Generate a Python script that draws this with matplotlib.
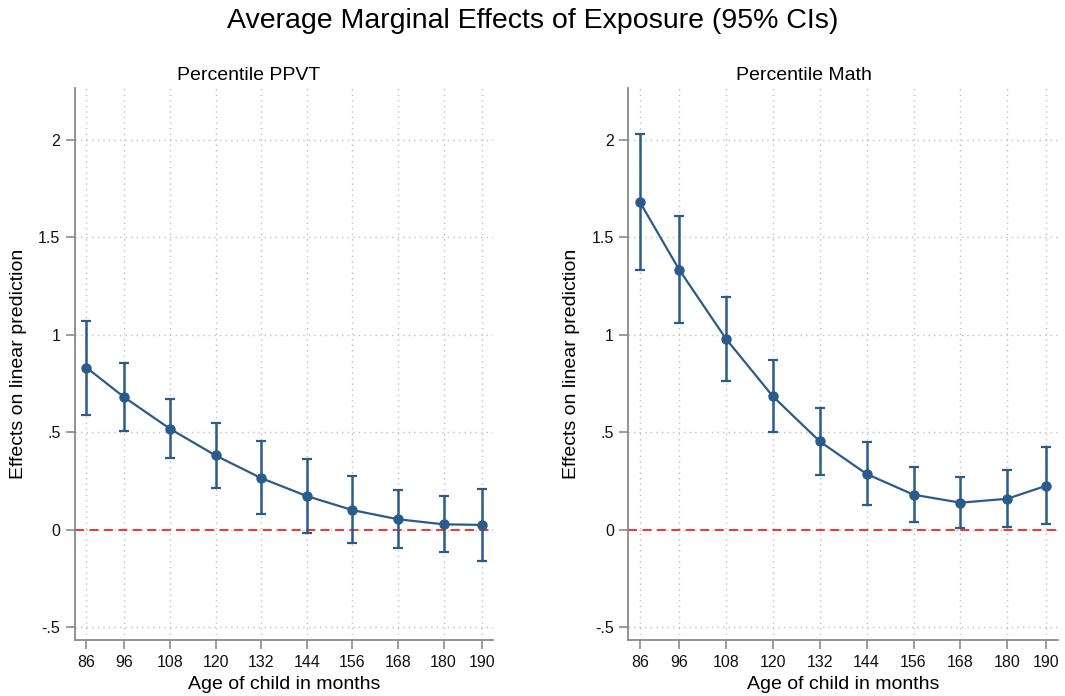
import matplotlib
matplotlib.use("Agg")
import matplotlib.pyplot as plt
import numpy as np

plt.rcParams['font.family'] = ['Liberation Sans', 'DejaVu Sans']

# Ages (months) at which the marginal effect is evaluated
ages = [86, 96, 108, 120, 132, 144, 156, 168, 180, 190]

# Percentile PPVT: estimate and 95% CI bounds
ppvt_est = [0.833, 0.680, 0.519, 0.382, 0.266, 0.174, 0.102, 0.055, 0.029, 0.026]
ppvt_lo = [0.592, 0.505, 0.370, 0.217, 0.082, -0.014, -0.068, -0.092, -0.113, -0.159]
ppvt_hi = [1.072, 0.854, 0.671, 0.549, 0.454, 0.362, 0.276, 0.205, 0.174, 0.212]

# Percentile Math: estimate and 95% CI bounds
math_est = [1.680, 1.335, 0.980, 0.685, 0.454, 0.287, 0.181, 0.140, 0.160, 0.227]
math_lo = [1.333, 1.060, 0.764, 0.500, 0.282, 0.128, 0.039, 0.010, 0.017, 0.031]
math_hi = [2.030, 1.610, 1.195, 0.873, 0.628, 0.449, 0.324, 0.270, 0.307, 0.423]

yticks = [-0.5, 0, 0.5, 1, 1.5, 2]
ytick_labels = ['-.5', '0', '.5', '1', '1.5', '2']

# title, data, axes rect, title x (axes fraction) -- Stata centres the subtitle on the whole panel
panels = [
    ('Percentile PPVT', ppvt_est, ppvt_lo, ppvt_hi, [0.0704, 0.0805, 0.3925, 0.7927], 0.416),
    ('Percentile Math', math_est, math_lo, math_hi, [0.590, 0.0805, 0.4035, 0.7927], 0.409),
]

line_color = '#2b5b89'
spine_color = '#8a8a8a'

fig = plt.figure(figsize=(10.65, 6.96), dpi=100)
fig.suptitle('Average Marginal Effects of Exposure (95% CIs)', fontsize=20.5, y=0.988)

for title, est, lo, hi, rect, tx in panels:
    ax = fig.add_axes(rect)
    est = np.array(est)
    yerr = np.array([est - np.array(lo), np.array(hi) - est])

    # dotted grid on major ticks
    ax.grid(True, linestyle=(0, (1, 3)), color='#c0c0c0', linewidth=1.0)
    ax.set_axisbelow(True)

    ax.axhline(0, color='#ff2020', linestyle=(0, (5, 3)), linewidth=1.3, zorder=2)

    ax.errorbar(ages, est, yerr=yerr, color=line_color, marker='o', markersize=6.5,
                linewidth=1.6, elinewidth=1.8, capsize=3.5, capthick=1.6, zorder=3)

    ax.set_xlim(83, 193)
    ax.set_ylim(-0.564, 2.265)
    ax.set_xticks(ages)
    ax.set_xticklabels([str(a) for a in ages], fontsize=11.5)
    ax.set_yticks(yticks)
    ax.set_yticklabels(ytick_labels, fontsize=11.5)

    for side in ['top', 'right']:
        ax.spines[side].set_visible(False)
    for side in ['left', 'bottom']:
        ax.spines[side].set_color(spine_color)
        ax.spines[side].set_linewidth(1.3)
    ax.tick_params(axis='both', colors=spine_color, labelcolor='#111111',
                   length=6.5, width=1.2, direction='out', pad=4)

    ax.set_title(title, fontsize=14, pad=6, x=tx)
    ax.set_xlabel('Age of child in months', fontsize=14, labelpad=5)
    ax.set_ylabel('Effects on linear prediction', fontsize=14, labelpad=8)

fig.savefig('out.png', dpi=100)
